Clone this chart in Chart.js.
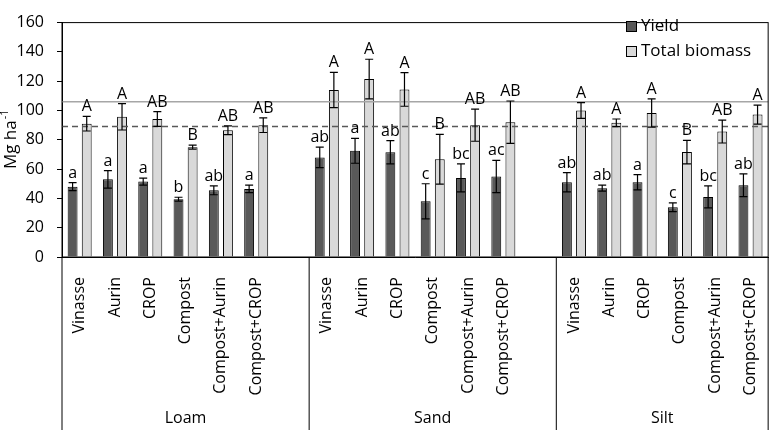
<!DOCTYPE html>
<html>
<head>
<meta charset="utf-8">
<script src="https://cdn.jsdelivr.net/npm/chart.js@4.4.0/dist/chart.umd.min.js"></script>
<style>
  html, body { margin: 0; padding: 0; background: #fff; }
</style>
</head>
<body>
<canvas id="chart" width="782" height="433"></canvas>
<script>
// treatments repeated in each soil, with a blank slot between soils
const treatments = ['Vinasse', 'Aurin', 'CROP', 'Compost', 'Compost+Aurin', 'Compost+CROP'];
const soils = ['Loam', 'Sand', 'Silt'];

// Loam, Sand, Silt (6 values each)
const yieldVals   = [48, 53, 51.5, 39.5, 45.5, 46.5,   68, 72.5, 71.5, 38, 54, 55,   51, 47, 51, 34, 41, 49];
const yieldErr    = [2.7, 6, 2.4, 1.3, 3, 2.6,         7, 8.5, 8, 12, 9.5, 11,       6.6, 2, 5.2, 3, 7.5, 7.8];
const biomassVals = [91, 95.7, 94.2, 75, 86.5, 90,     114, 121.5, 114.4, 66.7, 90, 92,   100, 91.6, 98.3, 71.6, 85.6, 97.2];
const biomassErr  = [5, 9, 5, 1.3, 3, 5,               12, 13.5, 11.5, 17, 11, 14.5,  5.4, 2.6, 9.7, 8, 7.8, 6.5];

const yieldLetters   = ['a','a','a','b','ab','a',  'ab','a','ab','c','bc','ac',  'ab','ab','a','c','bc','ab'];
const biomassLetters = ['A','A','AB','B','AB','AB',  'A','A','A','B','AB','AB',  'A','A','A','B','AB','A'];

const refSolid = 106;   // grey solid line
const refDashed = 89;   // dashed line

const FONT = '"Open Sans", sans-serif';

// build slot arrays: 6 treatments + blank, 6 + blank, 6
const labels = [], yData = [], bData = [], yE = [], bE = [], yL = [], bL = [];
soils.forEach((s, si) => {
  treatments.forEach((t, ti) => {
    const k = si * treatments.length + ti;
    labels.push(t);
    yData.push(yieldVals[k]); bData.push(biomassVals[k]);
    yE.push(yieldErr[k]); bE.push(biomassErr[k]);
    yL.push(yieldLetters[k]); bL.push(biomassLetters[k]);
  });
  if (si < soils.length - 1) {
    labels.push(''); yData.push(null); bData.push(null);
    yE.push(null); bE.push(null); yL.push(''); bL.push('');
  }
});

const extras = {
  id: 'extras',
  afterDatasetsDraw(chart) {
    const ctx = chart.ctx;
    const area = chart.chartArea;
    const ys = chart.scales.y;
    const errs = [yE, bE];
    const lets = [yL, bL];
    const vals = [yData, bData];

    ctx.save();
    // reference lines
    ctx.lineWidth = 1.5;
    ctx.strokeStyle = '#a6a6a6';
    let py = ys.getPixelForValue(refSolid);
    ctx.beginPath(); ctx.moveTo(area.left, py); ctx.lineTo(area.right, py); ctx.stroke();
    ctx.strokeStyle = '#595959';
    ctx.setLineDash([6, 4]);
    py = ys.getPixelForValue(refDashed);
    ctx.beginPath(); ctx.moveTo(area.left, py); ctx.lineTo(area.right, py); ctx.stroke();
    ctx.setLineDash([]);

    // error bars + letters
    ctx.strokeStyle = '#000';
    ctx.lineWidth = 1.2;
    ctx.fillStyle = '#000';
    ctx.font = '16px ' + FONT;
    ctx.textAlign = 'center';
    ctx.textBaseline = 'alphabetic';
    [0, 1].forEach(d => {
      const meta = chart.getDatasetMeta(d);
      meta.data.forEach((bar, i) => {
        const v = vals[d][i];
        if (v == null) return;
        const e = errs[d][i];
        const x = bar.x;
        const top = ys.getPixelForValue(v + e);
        const bot = ys.getPixelForValue(v - e);
        ctx.beginPath();
        ctx.moveTo(x, top); ctx.lineTo(x, bot);
        ctx.moveTo(x - 4, top); ctx.lineTo(x + 4, top);
        ctx.moveTo(x - 4, bot); ctx.lineTo(x + 4, bot);
        ctx.stroke();
        ctx.fillText(lets[d][i], x, top - 5);
      });
    });

    // frame and group separators
    ctx.strokeStyle = '#000';
    ctx.lineWidth = 1;
    ctx.strokeRect(area.left, area.top, area.right - area.left, area.bottom - area.top);
    const slot = (area.right - area.left) / labels.length;
    const bottomY = 430;
    const seps = [area.left, area.left + 7 * slot, area.left + 14 * slot, area.right];
    ctx.beginPath();
    seps.forEach(x => { ctx.moveTo(x, area.bottom); ctx.lineTo(x, bottomY); });
    ctx.stroke();

    // soil group labels
    ctx.font = '16px ' + FONT;
    ctx.textBaseline = 'middle';
    soils.forEach((s, i) => {
      ctx.fillText(s, (seps[i] + seps[i + 1]) / 2, 418);
    });

    // legend
    const lx = 626;
    [['Yield', '#595959', 26], ['Total biomass', '#d9d9d9', 51]].forEach(([txt, col, cy]) => {
      ctx.fillStyle = col;
      ctx.fillRect(lx, cy - 5, 10, 10);
      ctx.strokeStyle = '#000';
      ctx.strokeRect(lx + 0.5, cy - 4.5, 10, 10);
      ctx.fillStyle = '#000';
      ctx.textAlign = 'left';
      ctx.font = '17px ' + FONT;
      ctx.fillText(txt, lx + 15, cy);
    });

    // y axis title with superscript
    ctx.translate(11, (area.top + area.bottom) / 2);
    ctx.rotate(-Math.PI / 2);
    const base = 'Mg ha';
    ctx.font = '17px ' + FONT;
    const w1 = ctx.measureText(base).width;
    ctx.font = '11px ' + FONT;
    const w2 = ctx.measureText('-1').width;
    const start = -(w1 + w2) / 2;
    ctx.textAlign = 'left';
    ctx.textBaseline = 'middle';
    ctx.font = '17px ' + FONT;
    ctx.fillText(base, start, 0);
    ctx.font = '11px ' + FONT;
    ctx.fillText('-1', start + w1 + 1, -6);
    ctx.restore();
  }
};

new Chart(document.getElementById('chart'), {
  type: 'bar',
  data: {
    labels: labels,
    datasets: [
      { label: 'Yield', data: yData, backgroundColor: '#595959', borderColor: '#000', borderWidth: 1,
        categoryPercentage: 0.8, barPercentage: 0.7 },
      { label: 'Total biomass', data: bData, backgroundColor: '#d9d9d9', borderColor: '#000', borderWidth: 1,
        categoryPercentage: 0.8, barPercentage: 0.7 }
    ]
  },
  options: {
    responsive: false,
    animation: false,
    layout: { padding: { top: 8, right: 12, left: 0, bottom: 0 } },
    plugins: { legend: { display: false }, tooltip: { enabled: false } },
    scales: {
      x: {
        grid: { display: false },
        border: { display: true, color: '#000' },
        ticks: { autoSkip: false, minRotation: 90, maxRotation: 90, padding: 12,
                 color: '#000', font: { family: FONT, size: 16 } },
        afterFit(scale) { scale.height = 176; }
      },
      y: {
        min: 0, max: 160,
        grid: { display: true, drawOnChartArea: false, tickLength: 5, color: '#000' },
        border: { display: true, color: '#000' },
        ticks: { stepSize: 20, padding: 13, color: '#000', font: { family: FONT, size: 16 } },
        afterFit(scale) { scale.width = 62; }
      }
    }
  },
  plugins: [extras]
});
</script>
</body>
</html>
